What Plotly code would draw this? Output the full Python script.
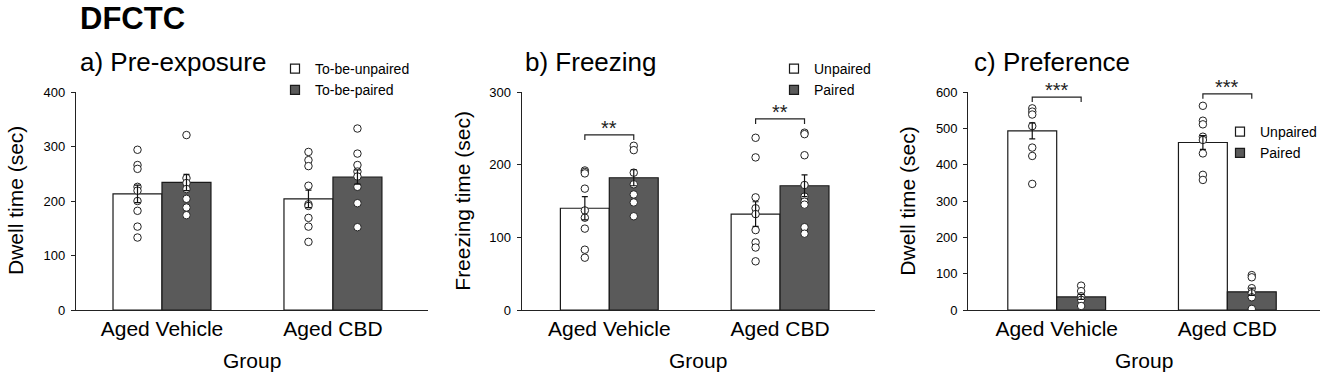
import plotly.graph_objects as go

FONT = "Liberation Sans, Arial, Helvetica, sans-serif"
W, H = 1325, 378

groups = ["Aged Vehicle", "Aged CBD"]

# ---- a) Pre-exposure ----
a_unp_mean = [213, 204]
a_pair_mean = [234, 244]
a_unp_sem = [16, 16]
a_pair_sem = [15, 13]
a_veh_unp = [294, 266, 259, 226, 219, 200, 182, 153, 133]
a_veh_pair = [321, 242, 233, 222, 204, 188, 174]
a_cbd_unp = [290, 275, 264, 228, 194, 191, 169, 153, 125]
a_cbd_pair = [333, 287, 266, 254, 245, 226, 196, 152]

# ---- b) Freezing ----
b_unp_mean = [140, 132]
b_pair_mean = [182, 171]
b_unp_sem = [16, 17]
b_pair_sem = [11, 15]
b_veh_unp = [192, 190, 188, 167, 137, 127, 112, 83, 72]
b_veh_pair = [226, 220, 189, 173, 159, 148, 129]
b_cbd_unp = [237, 210, 155, 140, 132, 110, 93, 86, 67]
b_cbd_pair = [244, 242, 213, 172, 156, 149, 145, 114, 105]
b_sig = ["**", "**"]
b_sig_y = [241, 263]

# ---- c) Preference ----
c_unp_mean = [493, 461]
c_pair_mean = [36, 50]
c_unp_sem = [22, 19]
c_pair_sem = [7, 10]
c_veh_unp = [555, 546, 538, 506, 447, 424, 347]
c_veh_pair = [67, 52, 38, 28, 11]
c_cbd_unp = [562, 521, 511, 477, 468, 431, 372, 358]
c_cbd_pair = [96, 90, 60, 46, 35, 3]
c_sig = ["***", "***"]
c_sig_y = [586, 595]

panels = [
    dict(title="a) Pre-exposure", ytitle="Dwell time (sec)", ymax=400,
         unp_mean=a_unp_mean, pair_mean=a_pair_mean, unp_sem=a_unp_sem, pair_sem=a_pair_sem,
         unp_pts=[a_veh_unp, a_cbd_unp], pair_pts=[a_veh_pair, a_cbd_pair],
         legend_names=["To-be-unpaired", "To-be-paired"], sig=None, sig_y=None,
         xdom=(76, 428), xrange=(-0.503, 1.556), title_x=77.7, ytitle_x=15,
         legend_xy=(275, 53)),
    dict(title="b) Freezing", ytitle="Freezing time (sec)", ymax=300,
         unp_mean=b_unp_mean, pair_mean=b_pair_mean, unp_sem=b_unp_sem, pair_sem=b_pair_sem,
         unp_pts=[b_veh_unp, b_cbd_unp], pair_pts=[b_veh_pair, b_cbd_pair],
         legend_names=["Unpaired", "Paired"], sig=b_sig, sig_y=b_sig_y,
         xdom=(521.7, 875), xrange=(-0.513, 1.556), title_x=523.3, ytitle_x=461.7,
         legend_xy=(774, 53)),
    dict(title="c) Preference", ytitle="Dwell time (sec)", ymax=600,
         unp_mean=c_unp_mean, pair_mean=c_pair_mean, unp_sem=c_unp_sem, pair_sem=c_pair_sem,
         unp_pts=[c_veh_unp, c_cbd_unp], pair_pts=[c_veh_pair, c_cbd_pair],
         legend_names=["Unpaired", "Paired"], sig=c_sig, sig_y=c_sig_y,
         xdom=(968.3, 1320), xrange=(-0.518, 1.543), title_x=971.7, ytitle_x=906.7,
         legend_xy=(1220, 116)),
]

BW = 0.2865          # bar width in category units
PAIRED = "#5a5a5a"
EDGE = "#1a1a1a"
PLOT_TOP, PLOT_BOT = 92, 310
gpos = list(range(len(groups)))

fig = go.Figure()
annotations = []
shapes = []
layout = {}

for k, p in enumerate(panels):
    sfx = "" if k == 0 else str(k + 1)
    xa, ya = "x" + sfx, "y" + sfx
    leg = "legend" if k == 0 else "legend" + str(k + 1)

    fig.add_trace(go.Bar(x=gpos, y=p["unp_mean"], width=BW, offset=-BW, xaxis=xa, yaxis=ya,
                         marker=dict(color="white", line=dict(color=EDGE, width=1.2)),
                         showlegend=False, hoverinfo="skip"))
    fig.add_trace(go.Bar(x=gpos, y=p["pair_mean"], width=BW, offset=0, xaxis=xa, yaxis=ya,
                         marker=dict(color=PAIRED, line=dict(color=EDGE, width=1.2)),
                         showlegend=False, hoverinfo="skip"))
    # individual points
    for gi, g in enumerate(gpos):
        for vals, off in ((p["unp_pts"][gi], -BW / 2), (p["pair_pts"][gi], BW / 2)):
            fig.add_trace(go.Scatter(x=[g + off] * len(vals), y=vals, mode="markers",
                                     xaxis=xa, yaxis=ya, showlegend=False, hoverinfo="skip",
                                     marker=dict(symbol="circle", size=7.5, color="white",
                                                 line=dict(color="#222222", width=1))))
    # error bars (on top of points)
    for means, sems, off in ((p["unp_mean"], p["unp_sem"], -BW / 2), (p["pair_mean"], p["pair_sem"], BW / 2)):
        fig.add_trace(go.Scatter(x=[g + off for g in gpos], y=means, mode="markers",
                                 xaxis=xa, yaxis=ya, showlegend=False, hoverinfo="skip",
                                 marker=dict(size=1, color="rgba(0,0,0,0)"),
                                 error_y=dict(type="data", array=sems, visible=True,
                                              color="#111111", thickness=1.2, width=3)))
    # legend-only entries
    for name, col, grp in ((p["legend_names"][0], "white", "u"), (p["legend_names"][1], PAIRED, "p")):
        fig.add_trace(go.Scatter(x=[None], y=[None], mode="markers", name=name, legend=leg,
                                 legendgroup=grp + str(k), xaxis=xa, yaxis=ya,
                                 marker=dict(symbol="square", size=9, color=col,
                                             line=dict(color=EDGE, width=1.2))))

    x0, x1 = p["xdom"]
    layout["xaxis" + sfx] = dict(domain=[x0 / W, x1 / W], range=list(p["xrange"]), anchor=ya,
                                 showline=True, linecolor="#222222", linewidth=1.2,
                                 ticks="", tickvals=gpos, ticktext=groups,
                                 tickfont=dict(size=21, color="black", family=FONT),
                                 showgrid=False, zeroline=False, fixedrange=True,
                                 ticklabelstandoff=0, automargin=False)
    layout["yaxis" + sfx] = dict(domain=[1 - PLOT_BOT / H, 1 - PLOT_TOP / H], range=[0, p["ymax"]],
                                 anchor=xa, dtick=100, showline=True, linecolor="#222222", linewidth=1.2,
                                 ticks="outside", ticklen=4, tickcolor="#222222",
                                 tickfont=dict(size=13, color="black", family=FONT),
                                 ticklabelstandoff=3, automargin=False,
                                 showgrid=False, zeroline=False, fixedrange=True)
    lx, ly = p["legend_xy"]
    layout[leg] = dict(x=lx / W, y=1 - ly / H, xanchor="left", yanchor="top",
                       font=dict(size=14, color="black", family=FONT),
                       bgcolor="rgba(0,0,0,0)", itemsizing="trace",
                       traceorder="grouped", tracegroupgap=0)

    # titles
    annotations.append(dict(text=p["title"], x=p["title_x"] / W, y=1 - 62 / H, xref="paper", yref="paper",
                            xanchor="left", yanchor="middle", showarrow=False,
                            font=dict(size=26, color="black", family=FONT)))
    annotations.append(dict(text=p["ytitle"], x=p["ytitle_x"] / W, y=1 - 201 / H, xref="paper", yref="paper",
                            xanchor="center", yanchor="middle", textangle=-90, showarrow=False,
                            font=dict(size=21, color="black", family=FONT)))
    annotations.append(dict(text="Group", x=((x0 + x1) / 2) / W, y=1 - 360 / H, xref="paper", yref="paper",
                            xanchor="center", yanchor="middle", showarrow=False,
                            font=dict(size=21, color="black", family=FONT)))
    # significance brackets
    if p["sig"]:
        drop = p["ymax"] * 0.023
        for g, s, sy in zip(gpos, p["sig"], p["sig_y"]):
            bx0, bx1 = g - BW / 2, g + BW / 2
            shapes.append(dict(type="path", xref=xa, yref=ya,
                               path=f"M {bx0},{sy - drop} L {bx0},{sy} L {bx1},{sy} L {bx1},{sy - drop}",
                               line=dict(color="#222222", width=1.2)))
            annotations.append(dict(text=s, x=g, y=sy, xref=xa, yref=ya, xanchor="center",
                                    yanchor="middle", yshift=7, showarrow=False,
                                    font=dict(size=20, color="#222222", family=FONT)))

annotations.append(dict(text="<b>DFCTC</b>", x=78 / W, y=1 - 18 / H, xref="paper", yref="paper",
                        xanchor="left", yanchor="middle", showarrow=False,
                        font=dict(size=31, color="black", family=FONT)))

fig.update_layout(width=W, height=H, margin=dict(l=0, r=0, t=0, b=0, autoexpand=False),
                  paper_bgcolor="white", plot_bgcolor="white",
                  font=dict(family=FONT, color="black"),
                  barmode="overlay", annotations=annotations, shapes=shapes, **layout)

fig.write_html("out.html", config={"displayModeBar": False},
               post_script="document.body.style.margin='0';document.body.style.overflow='hidden';")
